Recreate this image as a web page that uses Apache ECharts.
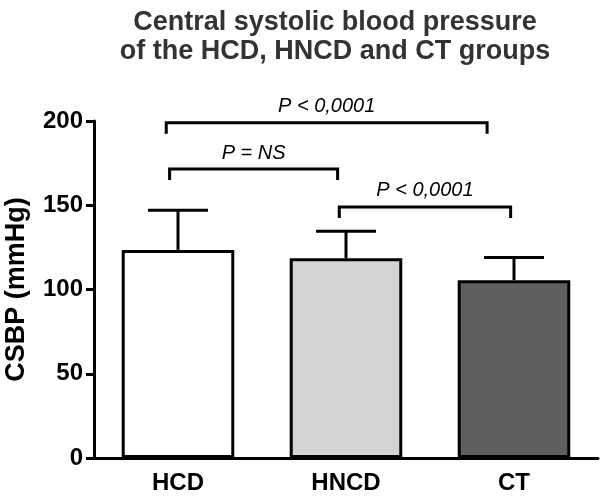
<!DOCTYPE html>
<html><head><meta charset="utf-8">
<script src="https://cdn.jsdelivr.net/npm/echarts@6/dist/echarts.min.js"></script>
<style>html,body{margin:0;padding:0;background:#fff}#c{width:600px;height:498px}</style>
</head><body><div id="c"></div>
<script>
const categories = ['HCD', 'HNCD', 'CT'];
const means = [123.5, 118.5, 105.5];
const upperErr = [147, 134.5, 119];
const barColors = ['#ffffff', '#d4d4d4', '#5f5f5f'];
const yTicks = [0, 50, 100, 150, 200];
// brackets: [startCategory, startOffset(frac of band), endCategory, endOffset, yValue, label]
const brackets = [
  [0, -0.07, 2, -0.16, 199, 'P < 0,0001'],
  [0, -0.05, 1, -0.05, 171.5, 'P = NS'],
  [1, -0.04, 2, -0.02, 149, 'P < 0,0001']
];

const chart = echarts.init(document.getElementById('c'));
const FONT = '"Liberation Sans", Arial, Helvetica, sans-serif';
chart.setOption({
  animation: false,
  title: {
    text: 'Central systolic blood pressure\nof the HCD, HNCD and CT groups',
    left: 330, top: 3, textAlign: 'center',
    textStyle: { fontFamily: FONT, fontWeight: 'bold', fontSize: 27, color: '#333333', lineHeight: 29 }
  },
  grid: { left: 94, right: 2, top: 121, bottom: 40, containLabel: false, outerBoundsMode: 'none' },
  xAxis: {
    type: 'category', data: categories,
    axisLine: { lineStyle: { color: '#000', width: 3 } },
    axisTick: { alignWithLabel: true, length: 7, lineStyle: { color: '#000', width: 3 } },
    axisLabel: { color: '#000', fontFamily: FONT, fontWeight: 'bold', fontSize: 24, margin: 13 }
  },
  yAxis: {
    type: 'value', min: 0, max: 200, interval: 50,
    name: 'CSBP (mmHg)', nameLocation: 'middle', nameGap: 64, nameRotate: 90,
    nameTextStyle: { color: '#000', fontFamily: FONT, fontWeight: 'bold', fontSize: 27 },
    axisLine: { show: true, lineStyle: { color: '#000', width: 3 } },
    axisTick: { show: true, length: 8, lineStyle: { color: '#000', width: 3 } },
    axisLabel: { color: '#000', fontFamily: FONT, fontWeight: 'bold', fontSize: 24, margin: 11,
      formatter: v => yTicks.includes(v) ? String(v) : '' },
    splitLine: { show: false }
  },
  series: [
    {
      type: 'bar', barWidth: '67%',
      data: means.map((v, i) => ({ value: v, itemStyle: { color: barColors[i] } })),
      itemStyle: { borderColor: '#000', borderWidth: 3 },
      z: 2
    },
    {
      type: 'custom', z: 3,
      data: means.map((m, i) => [i, m, upperErr[i]]),
      renderItem: (params, api) => {
        const base = api.coord([api.value(0), api.value(1)]);
        const top = api.coord([api.value(0), api.value(2)]);
        const half = 30;
        const st = { stroke: '#000', lineWidth: 3, fill: null };
        return { type: 'group', children: [
          { type: 'line', shape: { x1: base[0], y1: base[1], x2: top[0], y2: top[1] }, style: st },
          { type: 'line', shape: { x1: top[0] - half, y1: top[1], x2: top[0] + half, y2: top[1] }, style: st }
        ]};
      }
    },
    {
      type: 'custom', z: 4,
      data: brackets.map(b => [b[0], b[1], b[2], b[3], b[4]]),
      renderItem: (params, api) => {
        const b = brackets[params.dataIndex];
        const bw = api.size([1, 0])[0];
        const p0 = api.coord([b[0], b[4]]);
        const p1 = api.coord([b[2], b[4]]);
        const x0 = p0[0] + b[1] * bw, x1 = p1[0] + b[3] * bw, y = p0[1];
        const st = { stroke: '#000', lineWidth: 3, fill: null };
        return { type: 'group', children: [
          { type: 'polyline', shape: { points: [[x0, y + 11], [x0, y], [x1, y], [x1, y + 11]] }, style: st },
          { type: 'text', style: { text: b[5], x: (x0 + x1) / 2, y: y - 6, textAlign: 'center', textVerticalAlign: 'bottom',
            font: 'italic 20px ' + FONT, fill: '#000' } }
        ]};
      }
    }
  ]
});
</script></body></html>
